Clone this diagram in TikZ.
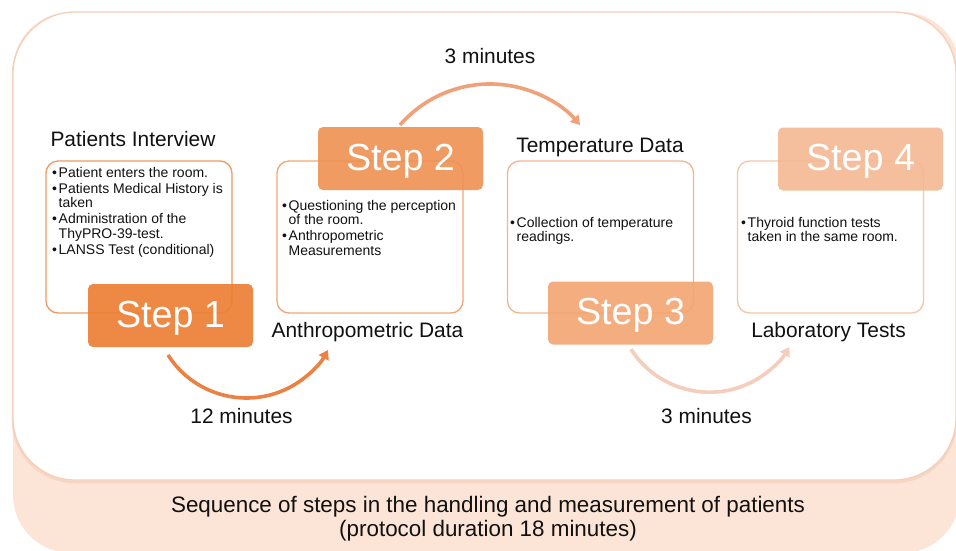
\documentclass[tikz,border=0pt]{standalone}
\usepackage{fontspec}
\setmainfont{Liberation Sans}
\usetikzlibrary{arrows.meta}

\definecolor{peachband}{HTML}{FCE4D6}
\definecolor{frameline}{HTML}{F4D0BA}
\definecolor{stepA}{HTML}{EC7D30}
\definecolor{stepB}{HTML}{EE9152}
\definecolor{stepC}{HTML}{F2A572}
\definecolor{stepD}{HTML}{F4B892}
\definecolor{lineA}{HTML}{EE9A62}
\definecolor{lineB}{HTML}{F0A674}
\definecolor{lineC}{HTML}{F3B58F}
\definecolor{lineD}{HTML}{F5C6A8}
\definecolor{flowA}{HTML}{EB8244}
\definecolor{flowB}{HTML}{EFA17A}
\definecolor{flowC}{HTML}{F5CDBC}
\definecolor{inktext}{HTML}{111111}

\newcommand{\bitem}[1]{\makebox[6.5pt][l]{\textbullet}#1}
\newcommand{\bcont}[1]{\hspace*{6.5pt}#1}

\tikzset{
  infobox/.style={draw, line width=1.3pt, fill=white, rounded corners=12pt,
    minimum width=186pt, minimum height=152pt, inner sep=0pt},
  stepbox/.style={fill opacity=0.9, text opacity=1, text=white,
    rounded corners=5pt, minimum width=165pt, minimum height=63pt,
    inner sep=0pt, text height=31pt, text depth=8pt,
    font=\fontsize{37.7}{40}\selectfont},
  heading/.style={anchor=base, inner sep=0pt, text=inktext,
    font=\fontsize{20.9}{24}\selectfont},
  bullets/.style={anchor=north west, inner sep=0pt, align=left, text=inktext,
    font=\fontsize{14}{14.5}\selectfont},
  flow/.style={line width=3.6pt, -{Triangle[length=9pt,width=11pt]}},
}

\begin{document}
\begin{tikzpicture}[x=1pt,y=-1pt]
\useasboundingbox (0,0) rectangle (956,550);
\fill[white] (0,0) rectangle (956,550);

% caption band and the white panel above it
\fill[peachband, rounded corners=58pt] (13,12) rectangle (960,553);
\draw[frameline!70!peachband, line width=2.5pt, rounded corners=62pt] (13,14) rectangle (956,482);
\filldraw[fill=white, draw=frameline, line width=1.3pt, rounded corners=62pt] (13,12) rectangle (956,480);

% outlined text boxes
\node[infobox, draw=lineA] (box1) at (139,237) {};
\node[infobox, draw=lineB] (box2) at (370,237) {};
\node[infobox, draw=lineC] (box3) at (600.5,237) {};
\node[infobox, draw=lineD] (box4) at (830.5,237) {};

% curved arrows between the steps
\coordinate (a1s) at (168.0,355.0);
\coordinate (a2s) at (400.0,125.0);
\coordinate (a3s) at (631.0,349.2);
\draw[flow, flowA] (a1s) arc[start angle=147.4, end angle=29, radius=93.2];
\draw[flow, flowB] (a2s) arc[start angle=221, end angle=319, radius=119.3];
\draw[flow, flowC] (a3s) arc[start angle=147.4, end angle=31, radius=93.2];

% step labels
\node[stepbox, fill=stepA] (step1) at (170.5,315.5) {Step 1};
\node[stepbox, fill=stepB] (step2) at (400.5,158.5) {Step 2};
\node[stepbox, fill=stepC] (step3) at (630.5,313) {Step 3};
\node[stepbox, fill=stepD] (step4) at (860.5,159) {Step 4};

% headings
\node[heading] (h1) at (133,146) {Patients Interview};
\node[heading] (h2) at (367.5,337) {Anthropometric Data};
\node[heading] (h3) at (600,152) {Temperature Data};
\node[heading] (h4) at (828.5,337) {Laboratory Tests};

% durations
\node[heading] (t1) at (241.5,423) {12 minutes};
\node[heading] (t2) at (490,63) {3 minutes};
\node[heading] (t3) at (706.5,423) {3 minutes};

% box contents
\node[bullets] (l1) at (52,166.8) {\bitem{Patient enters the room.}\\[1.5pt]
  \bitem{Patients Medical History is}\\
  \bcont{taken}\\[1.5pt]
  \bitem{Administration of the}\\
  \bcont{ThyPRO-39-test.}\\[1.5pt]
  \bitem{LANSS Test (conditional)}};
\node[bullets] (l2) at (282,199.8) {\bitem{Questioning the perception}\\
  \bcont{of the room.}\\[1.5pt]
  \bitem{Anthropometric}\\
  \bcont{Measurements}};
\node[bullets] (l3) at (510,216.8) {\bitem{Collection of temperature}\\
  \bcont{readings.}};
\node[bullets] (l4) at (741,216.8) {\bitem{Thyroid function tests}\\
  \bcont{taken in the same room.}};

% caption
\node[anchor=north, inner sep=0pt, align=center, text=inktext,
  font=\fontsize{22.4}{24}\selectfont] (cap) at (488,496.5)
  {Sequence of steps in the handling and measurement of patients\\
   (protocol duration 18 minutes)};
\end{tikzpicture}
\end{document}
